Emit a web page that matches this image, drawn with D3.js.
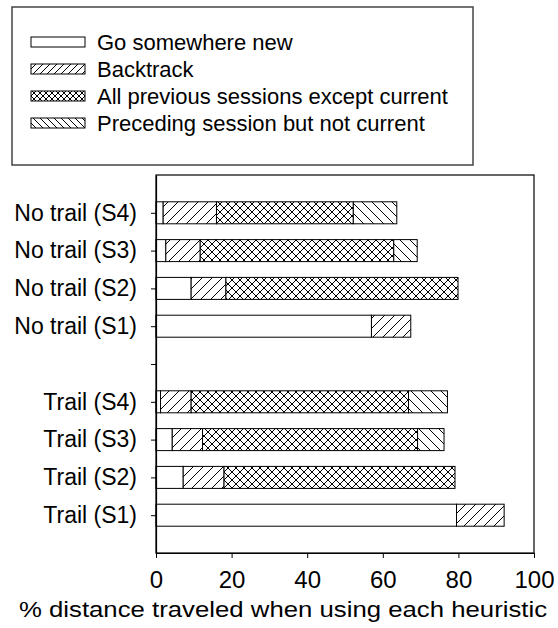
<!DOCTYPE html>
<html>
<head>
<meta charset="utf-8">
<script src="https://cdn.jsdelivr.net/npm/d3@7"></script>
<style>
  body { margin: 0; background: #fff; }
  text { font-family: "Liberation Sans", Arial, sans-serif; fill: #000; }
</style>
</head>
<body>
<svg id="chart" width="558" height="628"></svg>
<script>
// rows from top to bottom, "gap" is the empty slot between the two groups
var categories = ["No trail (S4)", "No trail (S3)", "No trail (S2)", "No trail (S1)", "gap",
                  "Trail (S4)", "Trail (S3)", "Trail (S2)", "Trail (S1)"];
var seriesNames = ["Go somewhere new", "Backtrack", "All previous sessions except current", "Preceding session but not current"];
var goNew     = [1.9, 2.6, 9.3, 57.0, 0, 1.2, 4.3, 7.2, 79.5];
var backtrack = [14.1, 9.1, 9.2, 10.4, 0, 8.1, 8.0, 10.8, 12.6];
var allPrev   = [36.2, 51.2, 61.4, 0, 0, 57.5, 56.9, 61.1, 0];
var preceding = [11.5, 6.2, 0, 0, 0, 10.3, 7.0, 0, 0];
var xTicks = [0, 20, 40, 60, 80, 100];

var svg = d3.select("#chart");
var defs = svg.append("defs");

// hatch patterns
var makeLines = function(id, size, dirs) {
  var p = defs.append("pattern")
      .attr("id", id)
      .attr("patternUnits", "userSpaceOnUse")
      .attr("width", size).attr("height", size);
  p.append("rect").attr("width", size).attr("height", size).attr("fill", "#fff");
  dirs.forEach(function(d) {
    var path = d === "/"
      ? "M0," + size + " L" + size + ",0 M-2,2 L2,-2 M" + (size - 2) + "," + (size + 2) + " L" + (size + 2) + "," + (size - 2)
      : "M0,0 L" + size + "," + size + " M-2," + (size - 2) + " L2," + (size + 2) + " M" + (size - 2) + ",-2 L" + (size + 2) + ",2";
    p.append("path").attr("d", path).attr("stroke", "#000").attr("stroke-width", 1).attr("fill", "none");
  });
};
makeLines("hBack", 10, ["/"]);
makeLines("hAll", 8, ["/", "\\"]);
makeLines("hPrev", 10, ["\\"]);
makeLines("lBack", 7, ["/"]);
makeLines("lAll", 6, ["/", "\\"]);
makeLines("lPrev", 7, ["\\"]);

var fills = ["#fff", "url(#hBack)", "url(#hAll)", "url(#hPrev)"];
var legendFills = ["#fff", "url(#lBack)", "url(#lAll)", "url(#lPrev)"];

var table = categories.map(function(c, i) {
  return {cat: c, s0: goNew[i], s1: backtrack[i], s2: allPrev[i], s3: preceding[i]};
});
var stacked = d3.stack().keys(["s0", "s1", "s2", "s3"])(table);

var x = d3.scaleLinear().domain([0, 100]).range([156, 534]);
var y = d3.scalePoint().domain(categories).range([175, 553]).padding(1);
var barH = 22;

// plot frame
svg.append("rect")
    .attr("x", 156).attr("y", 175)
    .attr("width", 378).attr("height", 378)
    .attr("fill", "none").attr("stroke", "#000").attr("stroke-width", 1.2);

svg.selectAll("g.layer")
    .data(stacked)
    .enter().append("g")
    .attr("class", "layer")
    .attr("fill", function(d, i) { return fills[i]; })
    .selectAll("rect")
    .data(function(d) { return d.filter(function(p) { return p[1] - p[0] > 0; }); })
    .enter().append("rect")
    .attr("x", function(d) { return x(d[0]); })
    .attr("y", function(d) { return y(d.data.cat) - barH / 2; })
    .attr("width", function(d) { return x(d[1]) - x(d[0]); })
    .attr("height", barH)
    .attr("stroke", "#000")
    .attr("stroke-width", 1);

// axes
var xAxis = svg.append("g")
    .attr("transform", "translate(0,553)")
    .call(d3.axisBottom(x).tickValues(xTicks).tickSize(5).tickSizeOuter(0).tickPadding(13));
xAxis.selectAll("text").style("font-size", "24px");

var yAxis = svg.append("g")
    .attr("transform", "translate(156,0)")
    .call(d3.axisLeft(y).tickSize(5).tickSizeOuter(0).tickPadding(14)
      .tickFormat(function(d) { return d === "gap" ? "" : d; }));
yAxis.selectAll("text").style("font-size", "23px");
svg.selectAll(".domain").attr("stroke-width", 1.2);

// axis title, a little wider than the font's own spacing as in the reference
svg.append("text")
    .attr("transform", "translate(283,617) scale(1.12,1)")
    .attr("text-anchor", "middle")
    .style("font-size", "23px")
    .text("% distance traveled when using each heuristic");

// legend
svg.append("rect")
    .attr("x", 12).attr("y", 7)
    .attr("width", 461).attr("height", 158)
    .attr("fill", "#fff").attr("stroke", "#444").attr("stroke-width", 1.5);

var leg = svg.selectAll("g.leg")
    .data(seriesNames)
    .enter().append("g")
    .attr("class", "leg")
    .attr("transform", function(d, i) { return "translate(31," + (42 + i * 27) + ")"; });
leg.append("rect")
    .attr("x", 0).attr("y", -5)
    .attr("width", 54).attr("height", 10)
    .attr("fill", function(d, i) { return legendFills[i]; })
    .attr("stroke", "#000").attr("stroke-width", 1);
leg.append("text")
    .attr("x", 66).attr("y", 0).attr("dy", "0.35em")
    .style("font-size", "22px")
    .text(function(d) { return d; });
</script>
</body>
</html>
